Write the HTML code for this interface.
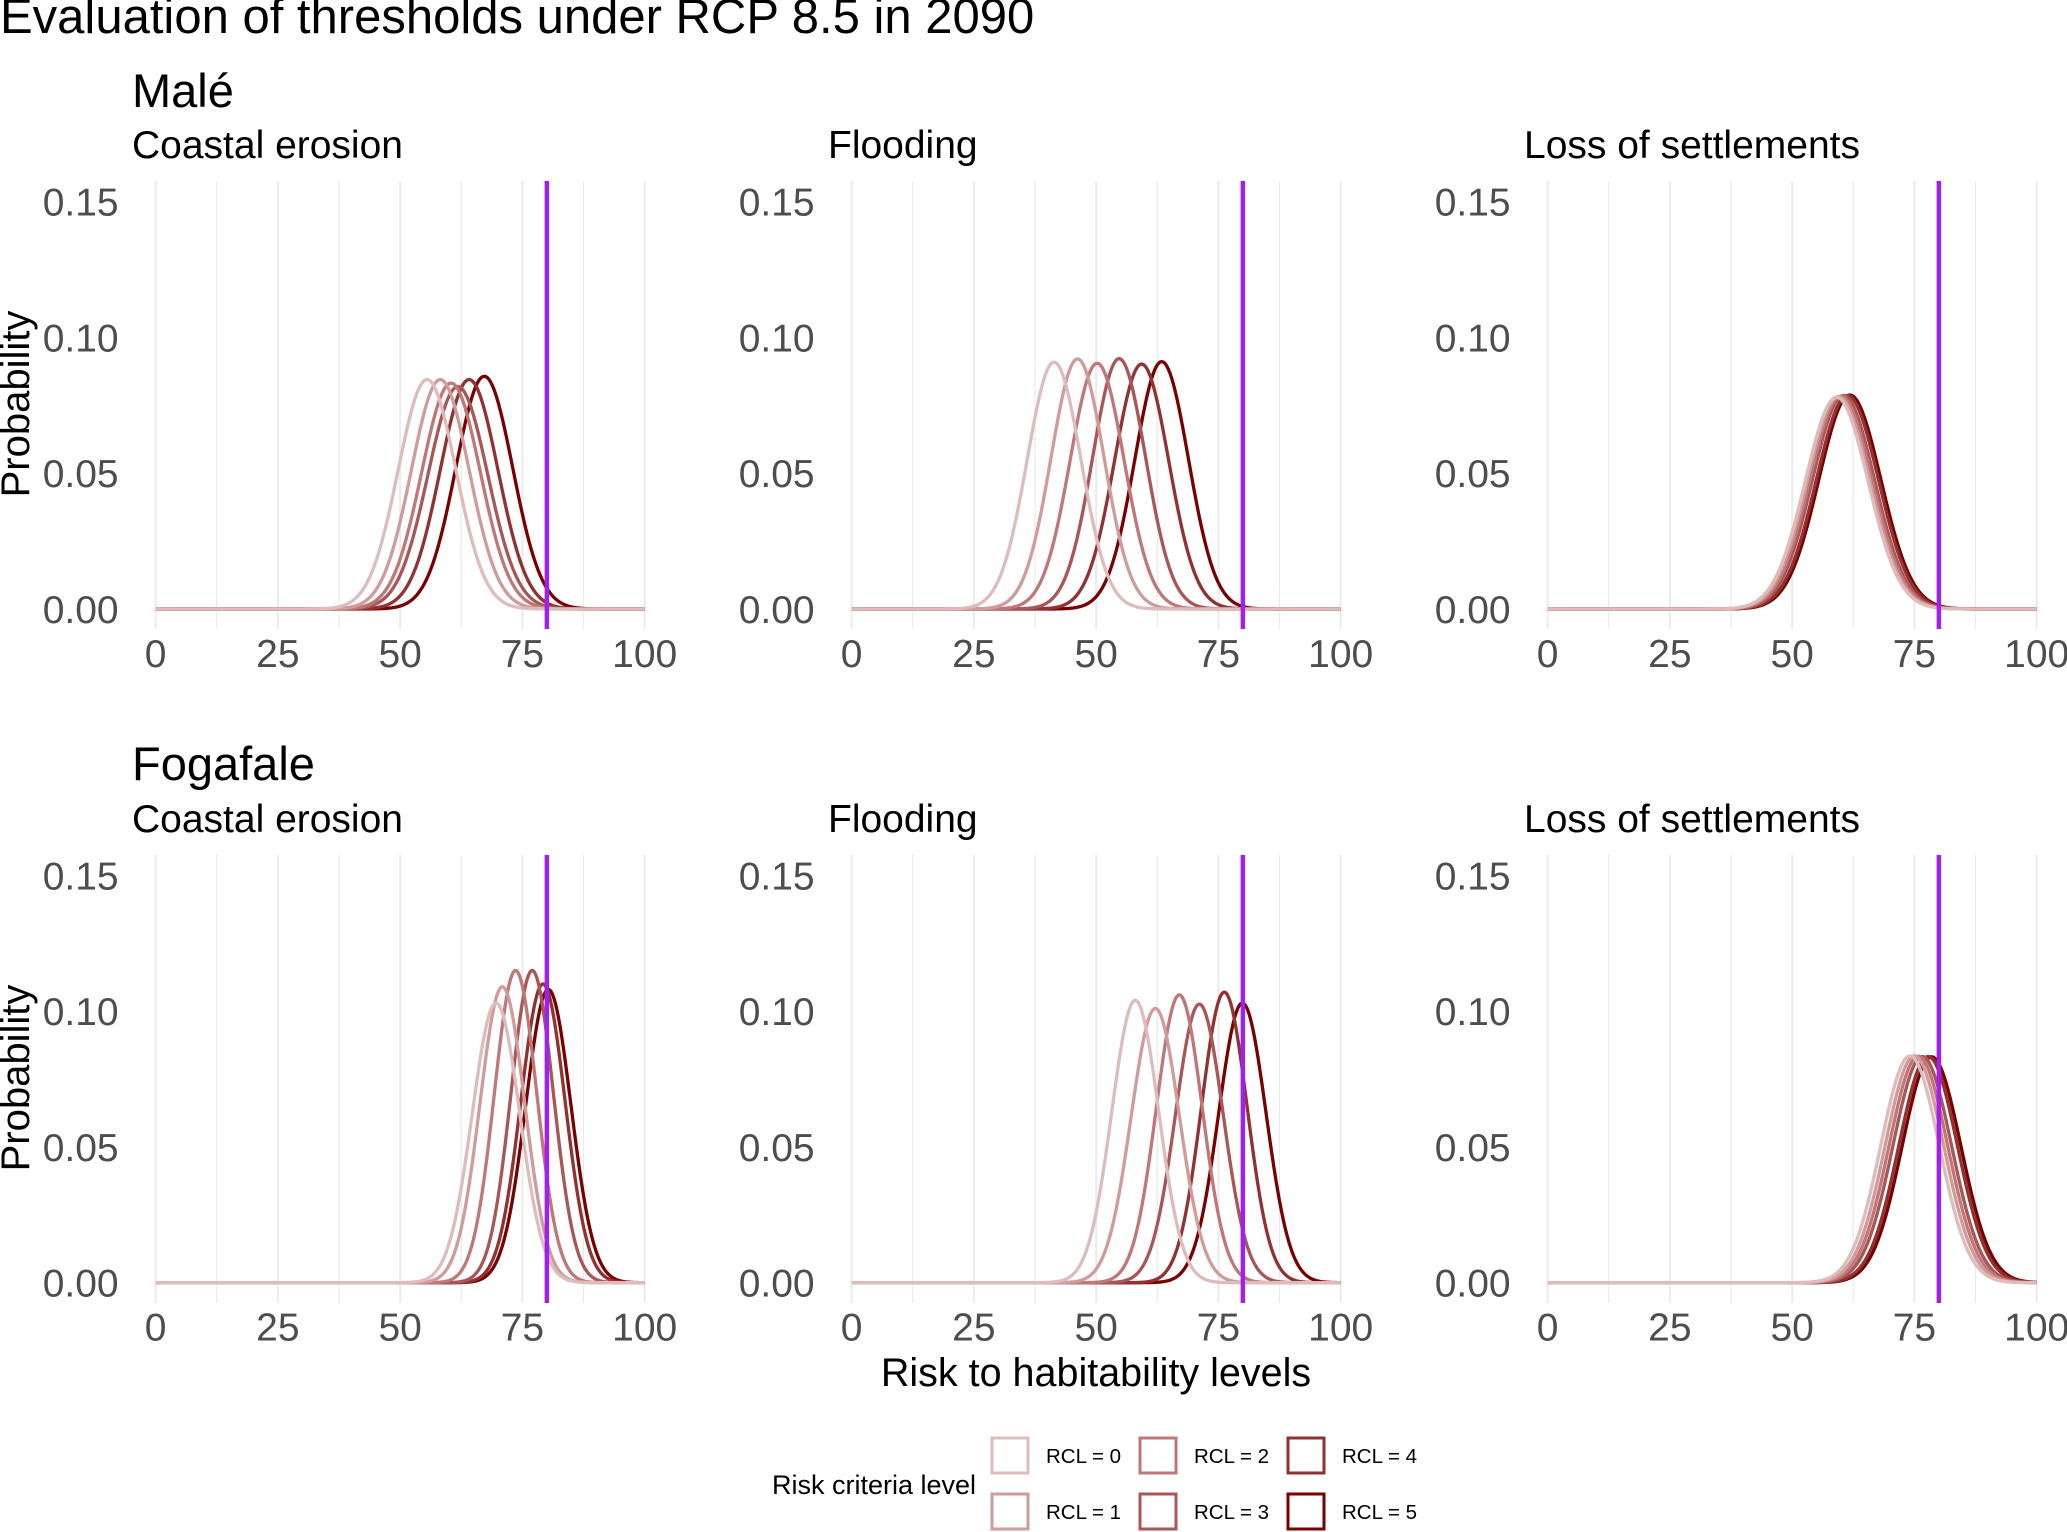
<!DOCTYPE html>
<html><head><meta charset="utf-8"><style>
html,body{margin:0;padding:0;background:#fff;}
svg{display:block;font-family:"Liberation Sans",Arial,sans-serif;}
</style></head><body>
<svg id="chart" width="2067" height="1532" viewBox="0 0 2067 1532" xmlns="http://www.w3.org/2000/svg">
<text x="0" y="33" font-size="49" fill="#000">Evaluation of thresholds under RCP 8.5 in 2090</text>
<g id="panels"></g>
<text x="1096" y="1386" font-size="39.5" text-anchor="middle" fill="#000">Risk to habitability levels</text>
<g id="legend"></g>
</svg>
<script>
const categories = ["Coastal erosion", "Flooding", "Loss of settlements"];
const sites = ["Malé", "Fogafale"];
const rclLabels = ["RCL = 0","RCL = 1","RCL = 2","RCL = 3","RCL = 4","RCL = 5"];
const xTicks = [0, 25, 50, 75, 100];
const yTicks = [0, 0.05, 0.10, 0.15];
const yTickLabels = ["0.00","0.05","0.10","0.15"];
const threshold = 80;
const maleCoastalMeans = [55.5, 58.2, 60.4, 61.8, 64.1, 67.2];
const maleCoastalPeaks = [0.0845, 0.0845, 0.0832, 0.0819, 0.0845, 0.0857];
const maleFloodMeans = [41.4, 46.2, 50.2, 54.7, 59.3, 63.4];
const maleFloodPeaks = [0.0909, 0.0921, 0.0905, 0.0922, 0.0902, 0.0911];
const maleLossMeans = [59.1, 59.5, 60.0, 60.5, 61.3, 61.8];
const maleLossPeaks = [0.0780, 0.0782, 0.0784, 0.0786, 0.0786, 0.0788];
const fogCoastalMeans = [69.6, 70.9, 73.6, 77.0, 79.2, 80.3];
const fogCoastalPeaks = [0.103, 0.109, 0.115, 0.115, 0.110, 0.108];
const fogFloodMeans = [58.0, 62.1, 67.0, 71.1, 76.2, 79.9];
const fogFloodPeaks = [0.104, 0.101, 0.106, 0.1026, 0.107, 0.103];
const fogLossMeans = [74.1, 75.0, 75.8, 76.6, 77.8, 78.5];
const fogLossPeaks = [0.0835, 0.0835, 0.0834, 0.0833, 0.0833, 0.0832];

const panelMeans = [[maleCoastalMeans, maleFloodMeans, maleLossMeans],[fogCoastalMeans, fogFloodMeans, fogLossMeans]];
const panelPeaks = [[maleCoastalPeaks, maleFloodPeaks, maleLossPeaks],[fogCoastalPeaks, fogFloodPeaks, fogLossPeaks]];
const colors = ["#dfbcbc","#d09b9b","#bf7777","#a95656","#923131","#7a0000"];
const widthFactor = 1.25;

const NS = "http://www.w3.org/2000/svg";
const colX0 = [155.6, 851.6, 1547.6];
const pxW = 489.1;
const rowY0 = [609, 1282.7];
const pxH = 407.3;
const rowTop = [181, 855];
const rowBot = [629, 1303];
function mk(tag, attrs, parent){const e=document.createElementNS(NS,tag);for(const k in attrs)e.setAttribute(k,attrs[k]);parent.appendChild(e);return e;}
const root = document.getElementById("panels");

sites.forEach((site, r) => {
  const st = mk("text",{x:132,y:r===0?107:780,"font-size":47,fill:"#000"},root);
  st.textContent = site;
  
  
  categories.forEach((cat, c) => {
    const g = mk("g",{},root);
    
    
    const xs = v => colX0[c] + v/100*pxW;
    const ys = v => rowY0[r] - v/0.15*pxH;
    const strip = mk("text",{x:colX0[c]-23.6,y:r===0?158:832,"font-size":39,fill:"#000"},g);
    strip.textContent = cat;
    
    
    for(let k=0;k<=8;k++){
      const v=k*12.5;
      const gl = mk("line",{x1:xs(v),x2:xs(v),y1:rowTop[r],y2:rowBot[r],stroke:"#ebebeb","stroke-width":k%2===0?2:1.2},g);
      
      
    }
    xTicks.forEach(v=>{
      const t = mk("text",{x:xs(v),y:rowY0[r]+58,"font-size":39,fill:"#4d4d4d","text-anchor":"middle"},g);
      t.textContent = v;
      
      
    });
    yTicks.forEach((v,i)=>{
      const t = mk("text",{x:colX0[c]-37,y:ys(v)+14,"font-size":39,fill:"#4d4d4d","text-anchor":"end"},g);
      t.textContent = yTickLabels[i];
      
      
    });
    const means = panelMeans[r][c], peaks = panelPeaks[r][c];
    for(let s=5;s>=0;s--){
      const sd = widthFactor/(peaks[s]*Math.sqrt(2*Math.PI));
      let d="";
      for(let v=0; v<=100.001; v+=0.25){
        const p = peaks[s]*Math.exp(-0.5*Math.pow((v-means[s])/sd,2));
        d += (v===0?"M":"L")+xs(v).toFixed(2)+","+ys(p).toFixed(2);
      }
      const path = mk("path",{d:d,fill:"none",stroke:colors[s],"stroke-width":3.3},g);
      
      
    }
    const th = mk("line",{x1:xs(threshold),x2:xs(threshold),y1:rowTop[r],y2:rowBot[r],stroke:"#a020f0","stroke-width":4.5},g);
    
    
  });
  const yl = mk("text",{transform:`translate(29,${r===0?404:1078}) rotate(-90)`,"font-size":40,fill:"#000","text-anchor":"middle"},root);
  yl.textContent = "Probability";
  
  
});

const leg = document.getElementById("legend");
const lt = mk("text",{x:772,y:1494,"font-size":27,fill:"#000"},leg);
lt.textContent = "Risk criteria level";


rclLabels.forEach((lab,i)=>{
  const col = Math.floor(i/2), row = i%2;
  const bx = 992 + col*148, by = 1438 + row*56;
  const rect = mk("rect",{x:bx,y:by,width:36,height:35,fill:"#fff",stroke:colors[i],"stroke-width":3},leg);
  
  
  const t = mk("text",{x:bx+54,y:by+25,"font-size":20.5,fill:"#000"},leg);
  t.textContent = lab;
  
  
});
</script>
</body></html>
